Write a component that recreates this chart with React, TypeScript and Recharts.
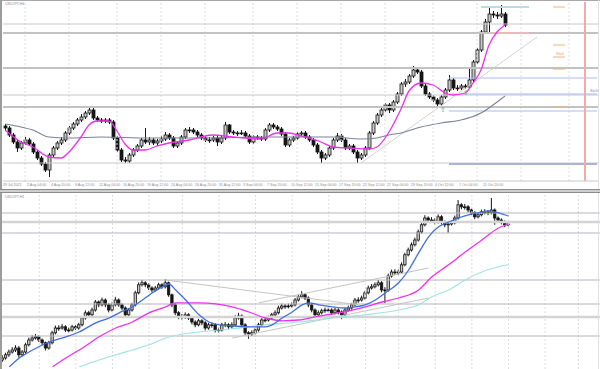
import { Bar, ComposedChart, Line, ReferenceLine, XAxis, YAxis } from "recharts";

// ---- top panel: USDJPY H4 (prices) ----
const TOP_FIRST_OPEN = 109.96;
const TOP_SLOTS = 149;
const TOP_CLOSE = [
  109.88, 109.6, 109.32, 109.08, 109.28, 109.4, 109.24, 108.92, 108.68, 108.44,
  108.2, 108.8, 109.08, 109.28, 109.4, 109.68, 109.88, 110.04, 110.2, 110.32,
  110.48, 110.6, 110.28, 110.2, 110.16, 110.2, 110.12, 109.48, 109.0, 108.6,
  108.56, 108.8, 109.0, 109.16, 109.4, 109.32, 109.4, 109.28, 109.36, 109.44,
  109.6, 109.48, 109.16, 109.28, 109.52, 109.8, 109.8, 109.72, 109.6, 109.48,
  109.4, 109.4, 109.48, 109.32, 109.48, 110.0, 109.72, 109.68, 109.68, 109.68,
  109.56, 109.32, 109.52, 109.48, 109.44, 109.8, 110.0, 109.92, 109.84, 109.64,
  109.2, 109.4, 109.48, 109.64, 109.68, 109.52, 109.4, 109.2, 108.92, 108.68,
  108.8, 109.08, 109.4, 109.56, 109.4, 109.08, 109.16, 108.92, 108.68, 108.8,
  109.08, 109.68, 110.08, 110.4, 110.6, 110.8, 110.6, 110.92, 111.24, 111.64,
  111.72, 111.96, 112.2, 112.12, 111.56, 111.24, 111.12, 111.0, 110.84, 111.12,
  111.4, 111.8, 111.48, 111.48, 111.56, 111.52, 111.8, 112.52, 113.0, 113.72,
  114.12, 114.44, 114.4, 114.36, 114.44, 114.0,
];
const TOP_HIGH = [
  110.04, 109.96, 109.68, 109.4, 109.36, 109.52, 109.48, 109.32, 109.0, 108.76,
  108.52, 108.88, 109.16, 109.36, 109.52, 109.76, 109.96, 110.12, 110.28, 110.44,
  110.56, 110.68, 110.72, 110.36, 110.28, 110.28, 110.28, 110.2, 109.56, 109.08,
  108.72, 108.88, 109.08, 109.24, 109.48, 109.88, 109.52, 109.48, 109.44, 109.56,
  109.72, 109.68, 109.56, 109.36, 109.6, 109.88, 109.92, 109.88, 109.8, 109.68,
  109.56, 109.52, 109.56, 109.56, 109.56, 110.12, 110.04, 109.8, 109.76, 109.8,
  109.76, 109.64, 109.6, 109.6, 109.56, 109.88, 110.08, 110.08, 110.0, 109.92,
  109.72, 109.48, 109.56, 109.72, 109.76, 109.76, 109.6, 109.48, 109.28, 109.0,
  108.88, 109.16, 109.48, 109.68, 109.64, 109.48, 109.24, 109.24, 109.0, 108.88,
  109.16, 109.76, 110.16, 110.48, 110.68, 110.88, 110.88, 111.0, 111.32, 111.72,
  111.84, 112.04, 112.36, 112.28, 112.2, 111.64, 111.32, 111.2, 111.08, 111.2,
  111.48, 112.0, 111.88, 111.6, 111.64, 111.64, 112.28, 112.6, 113.08, 113.8,
  114.24, 114.72, 114.56, 114.52, 114.8, 114.52,
];
const TOP_LOW = [
  109.76, 109.52, 109.24, 108.92, 109.0, 109.2, 109.16, 108.84, 108.6, 108.36,
  108.12, 107.92, 108.72, 109.0, 109.2, 109.32, 109.6, 109.8, 109.96, 110.12,
  110.24, 110.4, 110.2, 110.12, 110.08, 110.08, 110.04, 109.4, 108.92, 108.52,
  108.48, 108.48, 108.72, 108.92, 109.08, 109.24, 109.2, 109.2, 109.16, 109.28,
  109.36, 109.4, 109.08, 109.08, 109.2, 109.44, 109.68, 109.64, 109.52, 109.4,
  109.32, 109.28, 109.32, 109.16, 109.24, 109.4, 109.64, 109.6, 109.56, 109.6,
  109.48, 109.24, 109.24, 109.4, 109.36, 109.36, 109.72, 109.84, 109.76, 109.56,
  109.12, 109.12, 109.32, 109.4, 109.56, 109.44, 109.32, 109.12, 108.84, 108.48,
  108.6, 108.72, 109.0, 109.32, 109.32, 109.0, 109.0, 108.84, 108.48, 108.6,
  108.72, 109.0, 109.6, 110.0, 110.32, 110.52, 110.48, 110.52, 110.84, 111.16,
  111.52, 111.64, 111.88, 112.04, 111.48, 111.16, 111.04, 110.92, 110.72, 110.76,
  111.04, 111.32, 111.4, 111.36, 111.4, 111.44, 111.48, 111.72, 112.44, 112.92,
  113.64, 113.68, 114.28, 114.24, 114.28, 113.92,
];
// moving averages read at a few bars: [bar, price]
const TOP_MA_FAST: [number, number][] = [
  [0, 109.8], [4, 109.32], [7, 109.12], [11, 108.72], [14, 108.68], [16, 108.92], [19, 109.52],
  [21, 110.0], [23, 110.16], [26, 110.16], [28, 109.76], [30, 109.24], [32, 109.0], [35, 109.0],
  [38, 109.16], [41, 109.28], [46, 109.4], [49, 109.52], [52, 109.6], [57, 109.52], [64, 109.44],
  [68, 109.68], [71, 109.68], [74, 109.56], [79, 109.32], [82, 109.12], [86, 109.08], [91, 109.04],
  [93, 109.12], [96, 109.72], [99, 110.64], [101, 111.36], [104, 111.68], [107, 111.6], [110, 111.28],
  [112, 111.2], [115, 111.28], [117, 111.68], [119, 112.2], [121, 113.2], [123, 113.72], [125, 114.0],
];
const TOP_MA_SLOW: [number, number][] = [
  [0, 110.04], [4, 109.92], [7, 109.8], [11, 109.52], [16, 109.48], [24, 109.52], [36, 109.48],
  [49, 109.48], [66, 109.52], [82, 109.52], [89, 109.44], [93, 109.48], [96, 109.6], [99, 109.68],
  [104, 109.92], [109, 110.08], [114, 110.2], [119, 110.48], [124, 111.04], [125, 111.16],
];
const TOP_TICK_SLOTS = [0, 6, 12, 18, 24, 30, 36, 42, 48, 54, 60, 66, 72, 78, 84, 90, 96, 102, 108, 114, 120];
const TOP_LABELS = [
  "29 Jul 2021", "2 Aug 04:00", "4 Aug 20:00", "9 Aug 12:00", "12 Aug 04:00", "16 Aug 20:00",
  "19 Aug 12:00", "24 Aug 04:00", "26 Aug 20:00", "31 Aug 12:00", "3 Sep 04:00", "7 Sep 20:00",
  "10 Sep 12:00", "15 Sep 04:00", "17 Sep 20:00", "22 Sep 12:00", "27 Sep 04:00", "29 Sep 20:00",
  "4 Oct 12:00", "7 Oct 04:00", "11 Oct 20:00",
];
const TOP_GRID_SLOTS = [5, 16, 28, 39, 50, 62, 73, 84, 95, 107, 118, 129, 141];
const TOP_LEVELS_THIN = [114.04, 111.2, 108.48];
const TOP_LEVELS_THICK = [113.68, 112.28, 110.72];
const TOP_BLUE_LEVELS = [111.88, 111.24, 110.56];
const TOP_BLUE_THICK = 108.44;
const TOP_FIB_LEVELS = [114.72, 113.2, 112.72, 112.24, 110.72];

// ---- bottom panel: USDJPY H1 ----
const BOT_FIRST_OPEN = 110.6;
const BOT_SLOTS = 180;
const BOT_CLOSE = [
  110.65, 110.73, 110.8, 110.85, 110.9, 110.73, 110.8, 110.98, 111.1, 111.15,
  111.18, 111.1, 111.03, 110.9, 111.03, 111.28, 111.4, 111.4, 111.43, 111.35,
  111.35, 111.43, 111.4, 111.48, 111.65, 111.78, 111.73, 111.85, 112.05, 111.98,
  112.1, 111.98, 111.85, 111.98, 112.1, 111.98, 111.9, 111.73, 111.85, 111.98,
  112.28, 112.48, 112.53, 112.48, 112.4, 112.35, 112.4, 112.48, 112.43, 112.53,
  112.23, 111.98, 111.78, 111.68, 111.68, 111.73, 111.65, 111.55, 111.48, 111.58,
  111.53, 111.4, 111.48, 111.48, 111.35, 111.35, 111.48, 111.48, 111.43, 111.48,
  111.65, 111.7, 111.48, 111.28, 111.25, 111.28, 111.35, 111.48, 111.6, 111.6,
  111.65, 111.73, 111.78, 111.9, 111.95, 111.93, 111.95, 111.98, 112.1, 112.18,
  112.23, 112.15, 111.98, 111.85, 111.73, 111.78, 111.83, 111.85, 111.85, 111.78,
  111.85, 111.8, 111.73, 111.85, 111.9, 111.98, 112.1, 112.1, 112.15, 112.28,
  112.4, 112.43, 112.48, 112.53, 112.35, 112.35, 112.7, 112.8, 112.8, 112.8,
  112.98, 113.23, 113.35, 113.48, 113.6, 113.8, 113.98, 114.15, 114.1, 114.1,
  114.05, 114.18, 114.05, 113.98, 114.0, 114.03, 114.15, 114.48, 114.43, 114.43,
  114.35, 114.28, 114.18, 114.23, 114.3, 114.3, 114.28, 114.35, 114.15, 114.1,
  114.05, 113.98, 114.0,
];
const BOT_HIGH = [
  110.72, 110.78, 110.86, 110.92, 110.97, 110.95, 110.85, 111.03, 111.16, 111.22,
  111.25, 111.22, 111.14, 111.06, 111.08, 111.33, 111.46, 111.47, 111.5, 111.47,
  111.41, 111.48, 111.47, 111.53, 111.7, 111.84, 111.83, 111.91, 112.1, 112.09,
  112.16, 112.14, 112.02, 112.04, 112.18, 112.14, 112.02, 111.94, 111.9, 112.03,
  112.33, 112.54, 112.6, 112.57, 112.52, 112.44, 112.45, 112.53, 112.52, 112.62,
  112.56, 112.26, 112.02, 111.82, 111.75, 111.79, 111.77, 111.69, 111.59, 111.63,
  111.62, 111.57, 111.53, 111.54, 111.52, 111.41, 111.53, 111.55, 111.52, 111.54,
  111.72, 111.78, 111.74, 111.52, 111.32, 111.34, 111.4, 111.53, 111.66, 111.67,
  111.71, 111.78, 111.84, 111.96, 112.01, 112.0, 112.01, 112.04, 112.15, 112.24,
  112.32, 112.27, 112.19, 112.02, 111.89, 111.84, 111.88, 111.91, 111.92, 111.89,
  111.9, 111.89, 111.84, 111.9, 111.96, 112.03, 112.15, 112.17, 112.21, 112.33,
  112.46, 112.5, 112.54, 112.6, 112.57, 112.42, 112.76, 112.86, 112.87, 112.86,
  113.04, 113.28, 113.41, 113.54, 113.66, 113.86, 114.04, 114.22, 114.19, 114.17,
  114.14, 114.24, 114.22, 114.09, 114.06, 114.09, 114.21, 114.6, 114.52, 114.5,
  114.47, 114.39, 114.32, 114.29, 114.36, 114.37, 114.35, 114.65, 114.39, 114.19,
  114.14, 114.09, 114.06,
];
const BOT_LOW = [
  110.55, 110.61, 110.68, 110.76, 110.8, 110.66, 110.69, 110.76, 110.94, 111.06,
  111.11, 111.05, 110.97, 110.84, 110.86, 110.99, 111.24, 111.33, 111.36, 111.3,
  111.29, 111.31, 111.35, 111.36, 111.44, 111.61, 111.67, 111.69, 111.81, 111.92,
  111.94, 111.92, 111.79, 111.81, 111.94, 111.93, 111.84, 111.65, 111.69, 111.81,
  111.94, 112.24, 112.44, 112.42, 112.35, 112.29, 112.31, 112.36, 112.38, 112.39,
  112.18, 111.92, 111.72, 111.62, 111.61, 111.63, 111.6, 111.49, 111.42, 111.44,
  111.47, 111.34, 111.36, 111.41, 111.29, 111.28, 111.31, 111.42, 111.37, 111.39,
  111.44, 111.61, 111.43, 111.22, 111.13, 111.2, 111.24, 111.31, 111.44, 111.54,
  111.56, 111.61, 111.69, 111.74, 111.86, 111.88, 111.89, 111.91, 111.94, 112.06,
  112.14, 112.1, 111.92, 111.79, 111.67, 111.69, 111.74, 111.78, 111.79, 111.73,
  111.74, 111.74, 111.62, 111.69, 111.81, 111.86, 111.94, 112.03, 112.06, 112.11,
  112.24, 112.36, 112.39, 112.44, 112.29, 112.02, 112.31, 112.66, 112.73, 112.72,
  112.76, 112.94, 113.19, 113.31, 113.44, 113.56, 113.76, 113.94, 114.04, 114.03,
  113.99, 114.01, 113.99, 113.92, 113.78, 113.96, 113.99, 114.11, 114.37, 114.36,
  114.29, 114.22, 114.12, 114.14, 114.19, 114.24, 114.22, 114.24, 113.98, 114.04,
  113.99, 113.92, 113.94,
];
const BOT_MA_FAST: [number, number][] = [
  [2, 110.43], [5, 110.65], [9, 110.85], [14, 111.05], [19, 111.18], [23, 111.3], [28, 111.53],
  [32, 111.65], [35, 111.78], [39, 111.93], [42, 112.1], [45, 112.28], [48, 112.43], [50, 112.5],
  [52, 112.35], [55, 112.1], [59, 111.73], [62, 111.55], [65, 111.48], [69, 111.45], [74, 111.43],
  [79, 111.43], [81, 111.48], [84, 111.65], [87, 111.8], [90, 111.98], [92, 112.03], [95, 111.98],
  [99, 111.93], [103, 111.9], [106, 111.93], [109, 111.98], [112, 112.1], [115, 112.28], [119, 112.53],
  [122, 112.85], [125, 113.28], [128, 113.68], [131, 113.93], [134, 114.05], [137, 114.15],
  [140, 114.23], [143, 114.28], [146, 114.33], [149, 114.28], [152, 114.2],
];
const BOT_MA_MID: [number, number][] = [
  [15, 110.43], [19, 110.65], [24, 110.9], [29, 111.18], [34, 111.4], [39, 111.55], [44, 111.78],
  [49, 111.93], [52, 112.03], [55, 112.03], [59, 112.03], [69, 111.93], [74, 111.8], [79, 111.65],
  [84, 111.58], [89, 111.6], [94, 111.68], [99, 111.75], [104, 111.83], [109, 111.93], [114, 112.05],
  [119, 112.15], [125, 112.35], [129, 112.68], [134, 112.98], [139, 113.3], [144, 113.6],
  [149, 113.9], [152, 114.0],
];
const BOT_MA_SLOW: [number, number][] = [
  [23, 110.43], [29, 110.6], [34, 110.73], [39, 110.85], [44, 110.98], [49, 111.15], [54, 111.25],
  [59, 111.3], [69, 111.38], [79, 111.48], [89, 111.55], [99, 111.65], [109, 111.73], [119, 111.85],
  [125, 111.98], [129, 112.18], [134, 112.35], [139, 112.6], [144, 112.8], [149, 112.93], [152, 112.98],
];
const BOT_GRID_SLOTS = [11, 22, 33, 44, 54, 65, 76, 87, 98, 109, 119, 130, 141, 152, 163, 173];
const BOT_LEVELS_THIN = [114.275, 113.775, 112.6, 112.0, 111.2];
const BOT_LEVELS_THICK = [114.05, 111.675];

type Row = { i: number; [k: string]: any };

function buildRows(
  close: number[],
  high: number[],
  low: number[],
  firstOpen: number,
  slots: number,
  lines: Record<string, [number, number][]>
) {
  const rows: Row[] = [];
  for (let i = 0; i < slots; i++) {
    const row: Row = { i };
    if (i < close.length) {
      row.o = i === 0 ? firstOpen : close[i - 1];
      row.c = close[i];
      row.h = high[i];
      row.l = low[i];
      row.range = [low[i], high[i]];
    }
    rows.push(row);
  }
  Object.entries(lines).forEach(([key, pts]) => {
    pts.forEach(([idx, v]) => {
      rows[idx][key] = v;
    });
  });
  return rows;
}

const topRows = buildRows(TOP_CLOSE, TOP_HIGH, TOP_LOW, TOP_FIRST_OPEN, TOP_SLOTS, {
  fast: TOP_MA_FAST,
  slow: TOP_MA_SLOW,
});
const botRows = buildRows(BOT_CLOSE, BOT_HIGH, BOT_LOW, BOT_FIRST_OPEN, BOT_SLOTS, {
  fast: BOT_MA_FAST,
  mid: BOT_MA_MID,
  slow: BOT_MA_SLOW,
});

function Candle(props: any) {
  const { x, y, width, height, payload } = props;
  if (!payload || payload.c == null || y == null) return <g />;
  const { o, h, l, c } = payload;
  const top = Math.min(y, y + height);
  const span = Math.abs(height) || 1;
  const py = (v: number) => top + ((h - v) / (h - l)) * span;
  const cx = x + width / 2;
  const bTop = py(Math.max(o, c));
  const bBot = py(Math.min(o, c));
  const up = c >= o;
  return (
    <g>
      <line x1={cx} x2={cx} y1={top} y2={top + span} stroke="#161616" strokeWidth={1} />
      <rect
        x={x}
        y={bTop}
        width={width}
        height={Math.max(bBot - bTop, 0.8)}
        fill={up ? "#c8c8c8" : "#161616"}
        stroke="#161616"
        strokeWidth={0.8}
      />
    </g>
  );
}

function TimeTick(props: any) {
  const { x, y, payload } = props;
  const label = TOP_LABELS[TOP_TICK_SLOTS.indexOf(payload.value)];
  return (
    <text x={x - 2} y={y} dy={5} fontSize={3.6} fill="#8a8a8a" textAnchor="start" fontFamily="Liberation Sans, Arial, sans-serif">
      {label}
    </text>
  );
}

const small = { position: "absolute" as const, fontFamily: "Liberation Sans, Arial, sans-serif", lineHeight: 1, whiteSpace: "nowrap" as const };

export default function App() {
  return (
    <div style={{ position: "absolute", left: 0, top: 0, width: 600, height: 369, background: "#fff", overflow: "hidden" }}>
      <div style={{ position: "absolute", left: 0, top: 0 }}>
        <ComposedChart width={600} height={190} data={topRows} margin={{ top: 2, right: 1, bottom: 0, left: 3 }}>
          <XAxis
            dataKey="i"
            type="category"
            ticks={TOP_TICK_SLOTS}
            interval={0}
            height={9}
            tickLine={false}
            tickSize={0}
            tickMargin={0}
            axisLine={{ stroke: "#c8c8c8" }}
            tick={<TimeTick />}
          />
          <YAxis hide type="number" domain={[107.76, 114.92]} allowDataOverflow />
          {TOP_GRID_SLOTS.map((s) => (
            <ReferenceLine key={`g${s}`} x={s} stroke="#dcdcdc" strokeDasharray="2 2" />
          ))}
          {TOP_LEVELS_THIN.map((v) => (
            <ReferenceLine key={`t${v}`} y={v} stroke="#c8c8cc" strokeWidth={1} />
          ))}
          {TOP_LEVELS_THICK.map((v) => (
            <ReferenceLine key={`k${v}`} y={v} stroke="#c2c2c2" strokeWidth={2.2} />
          ))}
          {TOP_BLUE_LEVELS.map((v) => (
            <ReferenceLine key={`b${v}`} segment={[{ x: 111, y: v }, { x: 148, y: v }]} stroke="#a9b9ee" strokeWidth={1} />
          ))}
          <ReferenceLine segment={[{ x: 111, y: TOP_BLUE_THICK }, { x: 148, y: TOP_BLUE_THICK }]} stroke="#aab4d6" strokeWidth={2} />
          <ReferenceLine segment={[{ x: 119, y: 114.72 }, { x: 131, y: 114.72 }]} stroke="#b9dcea" strokeWidth={2.2} />
          <ReferenceLine segment={[{ x: 121, y: 113.68 }, { x: 131, y: 113.68 }]} stroke="#f0b8b8" strokeWidth={1.5} />
          {TOP_FIB_LEVELS.map((v) => (
            <ReferenceLine key={`f${v}`} segment={[{ x: 137, y: v }, { x: 140, y: v }]} stroke="#f2b27c" strokeWidth={1} />
          ))}
          <ReferenceLine segment={[{ x: 89, y: 108.48 }, { x: 133, y: 113.52 }]} stroke="#d2d2d2" strokeWidth={1} />
          <ReferenceLine x={145} stroke="#f5a9a9" strokeWidth={2} />
          <Bar dataKey="range" barSize={3} shape={<Candle />} isAnimationActive={false} />
          <Line dataKey="slow" type="monotone" stroke="#7a8294" strokeWidth={1.1} dot={false} connectNulls isAnimationActive={false} />
          <Line dataKey="fast" type="monotone" stroke="#ee30ee" strokeWidth={1.3} dot={false} connectNulls isAnimationActive={false} />
        </ComposedChart>
      </div>

      <div style={{ position: "absolute", left: 0, top: 193 }}>
        <ComposedChart width={600} height={176} data={botRows} margin={{ top: 2, right: 0, bottom: 0, left: 1 }}>
          <XAxis dataKey="i" type="category" hide />
          <YAxis hide type="number" domain={[110.375, 114.725]} allowDataOverflow />
          {BOT_GRID_SLOTS.map((s) => (
            <ReferenceLine key={`g${s}`} x={s} stroke="#dcdcdc" strokeDasharray="2 2" />
          ))}
          {BOT_LEVELS_THIN.map((v) => (
            <ReferenceLine key={`t${v}`} y={v} stroke="#b4b6c0" strokeWidth={1} />
          ))}
          {BOT_LEVELS_THICK.map((v) => (
            <ReferenceLine key={`k${v}`} y={v} stroke="#d4d4d4" strokeWidth={2.5} />
          ))}
          <ReferenceLine segment={[{ x: 49, y: 112.6 }, { x: 107, y: 111.98 }]} stroke="#c4c4c4" strokeWidth={1} />
          <ReferenceLine segment={[{ x: 77, y: 112.03 }, { x: 128, y: 112.9 }]} stroke="#c4c4c4" strokeWidth={1} />
          <ReferenceLine segment={[{ x: 69, y: 111.15 }, { x: 128, y: 112.15 }]} stroke="#c4c4c4" strokeWidth={1} />
          <Bar dataKey="range" barSize={2.4} shape={<Candle />} isAnimationActive={false} />
          <Line dataKey="slow" type="monotone" stroke="#9fe3dc" strokeWidth={1.1} dot={false} connectNulls isAnimationActive={false} />
          <Line dataKey="mid" type="monotone" stroke="#ee30ee" strokeWidth={1.3} dot={false} connectNulls isAnimationActive={false} />
          <Line dataKey="fast" type="monotone" stroke="#3f6fe0" strokeWidth={1.3} dot={false} connectNulls isAnimationActive={false} />
        </ComposedChart>
      </div>

      {/* frame and panel separator */}
      <div style={{ position: "absolute", left: 0, top: 0, width: 600, height: 1, background: "#a8a8a8" }} />
      <div style={{ position: "absolute", left: 0, top: 0, width: 2, height: 369, background: "#9c9c9c" }} />
      <div style={{ position: "absolute", left: 598, top: 0, width: 1, height: 369, background: "#e2e2e2" }} />
      <div style={{ position: "absolute", left: 0, top: 189, width: 600, height: 1, background: "#8c8c8c" }} />
      <div style={{ position: "absolute", left: 0, top: 190, width: 600, height: 2, background: "#cfcfcf" }} />
      <div style={{ position: "absolute", left: 0, top: 192, width: 600, height: 1, background: "#8c8c8c" }} />

      {/* texts */}
      <div style={{ ...small, left: 5, top: 3, fontSize: 3.6, color: "#8a8a8a" }}>USDJPY,H4</div>
      <div style={{ ...small, left: 5, top: 196, fontSize: 3.6, color: "#8a8a8a" }}>USDJPY,H1</div>
      <div style={{ ...small, left: 556, top: 52, fontSize: 4, color: "#e39a5c" }}>Stch</div>
      <div style={{ ...small, left: 590, top: 89, fontSize: 4, color: "#6f86d6" }}>Stch</div>
      <div style={{ ...small, left: 440, top: 106, fontSize: 7, color: "#5aa85a" }}>⇧</div>
      <div style={{ ...small, left: 463, top: 89, fontSize: 7, color: "#5aa85a" }}>⇧</div>
      <div style={{ ...small, left: 468, top: 83, fontSize: 5, color: "#8a8a8a" }}>▲</div>
    </div>
  );
}
